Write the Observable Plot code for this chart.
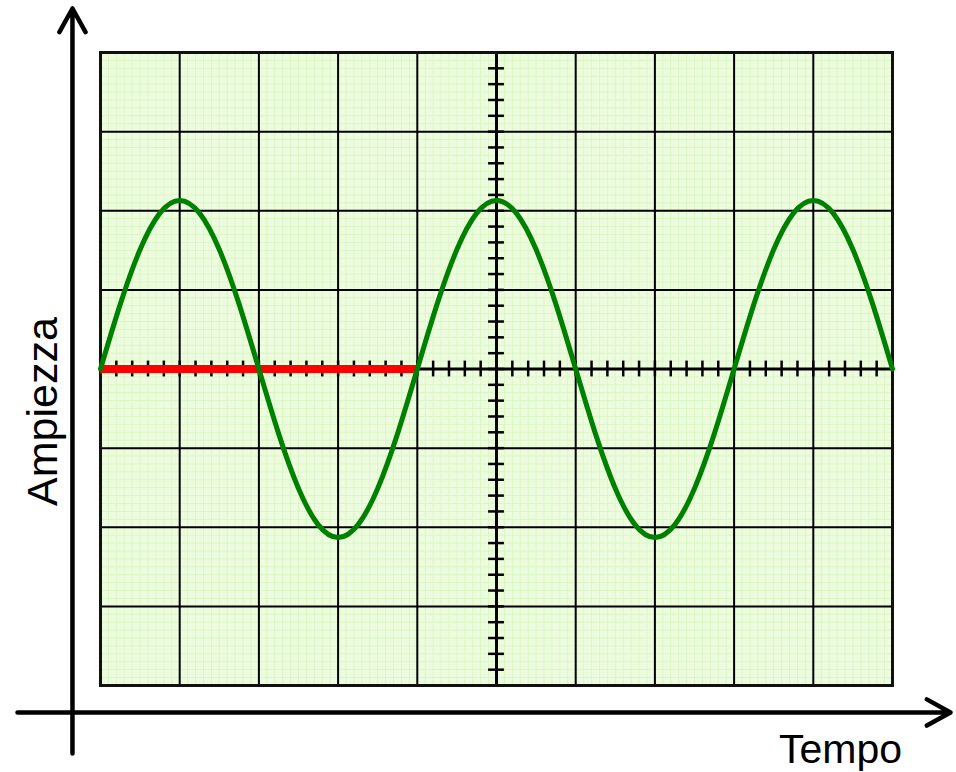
<!DOCTYPE html>
<html>
<head>
<meta charset="utf-8">
<script src="https://cdn.jsdelivr.net/npm/d3@7"></script>
<script src="https://cdn.jsdelivr.net/npm/@observablehq/plot@0.6"></script>
<style>
  html, body { margin: 0; padding: 0; background: #fff; }
  #chart svg { display: block; }
</style>
</head>
<body>
<div id="chart"></div>
<script>
// Oscilloscope screen: 10 horizontal divisions (Tempo), 8 vertical divisions (Ampiezza)
const divisionsX = [0, 1, 2, 3, 4, 5, 6, 7, 8, 9, 10];
const divisionsY = [-4, -3, -2, -1, 0, 1, 2, 3, 4];

const traceX = [
  0, 0.25, 0.5, 0.75, 1, 1.25, 1.5, 1.75, 2, 2.25, 2.5, 2.75, 3, 3.25, 3.5, 3.75,
  4, 4.25, 4.5, 4.75, 5, 5.25, 5.5, 5.75, 6, 6.25, 6.5, 6.75, 7, 7.25, 7.5, 7.75,
  8, 8.25, 8.5, 8.75, 9, 9.25, 9.5, 9.75, 10
];
const traceY = [
  0, 0.82, 1.51, 1.97, 2.13, 1.97, 1.51, 0.82, 0, -0.82, -1.51, -1.97, -2.13, -1.97, -1.51, -0.82,
  0, 0.82, 1.51, 1.97, 2.13, 1.97, 1.51, 0.82, 0, -0.82, -1.51, -1.97, -2.13, -1.97, -1.51, -0.82,
  0, 0.82, 1.51, 1.97, 2.13, 1.97, 1.51, 0.82, 0
];

// One period marked in red (from 0 to 4 divisions)
const periodStart = [0];
const periodEnd = [4];

const axisLabelX = "Tempo";
const axisLabelY = "Ampiezza";

const trace = traceX.map((x, i) => ({x, y: traceY[i]}));

// fine subgrid (10 per division) and centre-axis minor ticks (5 per division)
const fineX = d3.range(0, 100).map(i => i / 10);
const fineY = d3.range(-40, 40).map(i => i / 10);
const minorX = d3.range(0, 51).map(i => i / 5);
const minorY = d3.range(-20, 21).map(i => i / 5);

const period = periodStart.map((s, i) => ({x1: s, x2: periodEnd[i], y: 0}));

const xDom = [divisionsX[0], divisionsX[divisionsX.length - 1]];
const yDom = [divisionsY[0], divisionsY[divisionsY.length - 1]];
const xMid = (xDom[0] + xDom[1]) / 2;
const yMid = (yDom[0] + yDom[1]) / 2;

const arrows = [
  {x1: xDom[0] - 0.354, y1: yDom[0] - 0.859, x2: xDom[0] - 0.354, y2: yDom[1] + 0.556}, // vertical
  {x1: xDom[0] - 1.048, y1: yDom[0] - 0.341, x2: xDom[1] + 0.732, y2: yDom[0] - 0.341}  // horizontal
];

const chart = Plot.plot({
  width: 956,
  height: 772,
  marginLeft: 100,
  marginRight: 64,
  marginTop: 52,
  marginBottom: 87,
  x: {domain: xDom, axis: null},
  y: {domain: yDom, axis: null},
  style: {background: "#ffffff", overflow: "visible", fontFamily: "'Liberation Sans', Arial, sans-serif"},
  marks: [
    Plot.frame({fill: "#edfcdf", stroke: null}),
    Plot.ruleX(fineX, {stroke: "#dbf6c4", strokeWidth: 1}),
    Plot.ruleY(fineY, {stroke: "#dbf6c4", strokeWidth: 1}),
    Plot.ruleX(divisionsX, {stroke: "#000", strokeWidth: 2}),
    Plot.ruleY(divisionsY, {stroke: "#000", strokeWidth: 2}),
    // centre axes with minor ticks
    Plot.ruleX([xMid], {stroke: "#000", strokeWidth: 3}),
    Plot.ruleY([yMid], {stroke: "#000", strokeWidth: 3}),
    Plot.ruleX(minorX, {x: d => d, y1: yMid - 0.1, y2: yMid + 0.1, stroke: "#000", strokeWidth: 2.5}),
    Plot.ruleY(minorY, {y: d => d, x1: xMid - 0.1, x2: xMid + 0.1, stroke: "#000", strokeWidth: 2.5}),
    Plot.frame({stroke: "#111", strokeWidth: 3}),
    // one period in red
    Plot.ruleY(period, {x1: "x1", x2: "x2", y: "y", stroke: "#ff0000", strokeWidth: 8}),
    // sine trace
    Plot.line(trace, {x: "x", y: "y", stroke: "#008000", strokeWidth: 5, curve: "natural", strokeLinejoin: "round"}),
    // outer axes arrows
    Plot.arrow(arrows, {x1: "x1", y1: "y1", x2: "x2", y2: "y2", stroke: "#000", strokeWidth: 4.5, headLength: 9, headAngle: 58, strokeLinecap: "round", strokeLinejoin: "round"}),
    // axis labels
    Plot.text([axisLabelX], {x: xDom[1] - 0.657, y: yDom[0] - 0.811, text: d => d, fontSize: 41, fill: "#000", textAnchor: "middle", lineAnchor: "middle"}),
    Plot.text([axisLabelY], {x: xDom[0] - 0.721, y: yMid - 0.537, text: d => d, fontSize: 43, fill: "#000", textAnchor: "middle", lineAnchor: "middle", rotate: -90})
  ]
});

document.getElementById("chart").appendChild(chart);
</script>
</body>
</html>
